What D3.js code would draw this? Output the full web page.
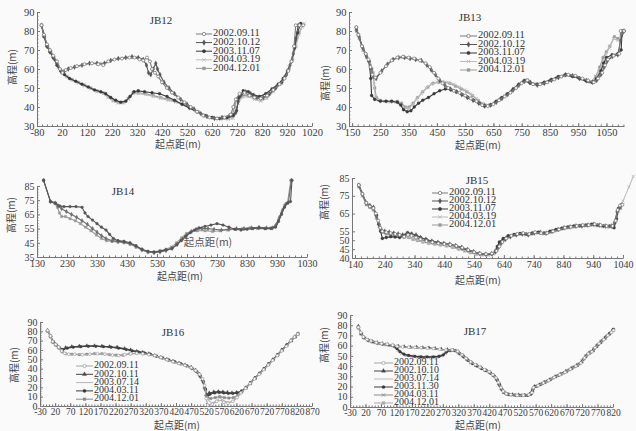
<!DOCTYPE html>
<html><head><meta charset="utf-8">
<script src="https://cdn.jsdelivr.net/npm/d3@7"></script>
<style>
body{margin:0;background:#fafafa;}
svg{display:block;}
.tick text{font-family:"Liberation Serif","Times New Roman",serif;fill:#3a3a3a;}
.ax .domain,.ax line{stroke:#777;}
</style></head><body>
<svg id="fig" width="636" height="431"></svg>
<script>
// ---- JB12 ----
const jb12Dates = ["2002.09.11","2002.10.12","2003.11.07","2004.03.19","2004.12.01"];
const jb12XTicks = [-80,20,120,220,320,420,520,620,720,820,920,1020];
const jb12YTicks = [30,40,50,60,70,80,90];
const jb12_a = [[-62,83],[-52,78],[-40,73],[-28,70],[-15,67],[0,64],[12,60],[22,58],[35,59.5],[55,60.5],[80,61.5],[110,62.5],[140,63],[165,62.5],[185,62],[205,64],[230,65],[260,65.5],[290,66],[310,66],[330,65],[345,64.5],[360,66],[372,64],[380,60],[392,58],[405,56],[420,53],[440,50],[460,47.5],[485,45],[510,42.5],[535,40],[560,37.5],[585,35.5],[610,34.5],[640,34],[670,34.5],[695,36],[705,40],[715,44],[730,47],[750,47.5],[770,46],[790,45],[815,44.5],[840,46],[865,49],[890,52],[910,55],[925,59],[938,64],[948,72],[955,83],[970,83],[985,83]];
const jb12_b = [[-62,83],[-52,78],[-40,72],[-28,69],[-15,66],[0,63],[15,59],[28,58.5],[45,60],[70,61],[100,62],[130,63],[160,63],[190,63],[215,64.5],[245,65.5],[275,66],[300,66.5],[325,66],[345,65],[358,62],[366,58],[375,57],[385,60],[395,63],[402,60],[412,57],[428,53],[448,50],[470,47],[495,44],[520,41.5],[548,39],[575,36.5],[600,35],[630,34],[660,34.5],[690,35.5],[715,37],[725,43],[735,46],[755,48],[775,47],[800,45],[825,45],[850,47],[875,50],[900,53],[918,57],[932,62],[945,68],[955,76],[965,83]];
const jb12_c = [[-62,83],[-52,77],[-40,72],[-28,69],[-15,66],[0,62],[15,59],[30,57],[50,55],[75,53.5],[100,52],[125,50.5],[150,49],[175,48],[195,47],[215,45],[235,43.5],[255,42.5],[275,43],[292,45.5],[308,48],[325,48.5],[350,48],[380,47.5],[410,47],[440,45.5],[470,43.5],[500,41.5],[530,39.5],[560,37.5],[590,35.5],[620,34.5],[650,34],[680,34.5],[705,35.5],[718,38],[728,45],[745,48.5],[765,48],[785,46.5],[810,45.5],[835,47],[860,49.5],[885,52],[905,55],[922,59],[938,64],[950,71],[962,79],[975,84]];
const jb12_d = [[-62,83],[-50,77],[-38,72],[-25,69],[-10,66],[5,62],[20,59],[40,56],[60,54],[85,52.5],[110,51],[135,49.5],[160,48],[185,47],[205,45],[225,43],[245,42],[265,42],[285,44],[305,47],[325,47],[355,46.5],[385,45.5],[415,44.5],[445,43.5],[475,42.5],[505,41],[535,39],[565,37],[595,35],[625,34],[655,33.5],[685,33.5],[705,34],[715,37],[725,42],[740,45],[765,45.5],[790,44],[815,43],[840,44.5],[865,48],[890,52],[910,56],[928,61],[942,66],[955,72],[968,78],[980,82],[990,84]];
const jb12_e = [[-62,83],[-50,77],[-38,72],[-25,69],[-10,65],[5,61],[20,58],[40,56],[60,54.5],[85,53],[110,51.5],[135,50],[160,48.5],[185,47.5],[205,45.5],[225,43.5],[245,42.5],[265,42.5],[285,44.5],[305,47.5],[325,47.5],[355,47],[385,46],[415,45],[445,44],[475,43],[505,41.5],[535,39.5],[565,37.5],[595,35.5],[625,34.5],[655,34],[685,34],[700,35],[710,40],[720,44],[740,46],[765,46],[790,45],[815,44],[840,45.5],[865,48.5],[890,52],[910,55.5],[928,60],[942,65],[955,72],[968,79],[982,83]];

// ---- JB13 ----
const jb13Dates = ["2002.09.11","2002.10.12","2003.11.07","2004.03.19","2004.12.01"];
const jb13XTicks = [150,250,350,450,550,650,750,850,950,1050];
const jb13YTicks = [30,40,50,60,70,80,90];
const jb13_a = [[165,82],[172,78],[185,72],[198,68],[208,65],[215,61],[222,57],[232,55.5],[250,58],[270,61.5],[290,64.5],[310,66],[330,66.5],[350,66],[370,65.5],[390,64.5],[410,63],[425,61],[440,58],[455,55],[470,52.5],[490,50],[510,48.5],[530,47.5],[550,46],[570,44.5],[590,43],[610,41],[630,40.5],[650,41.5],[670,43.5],[690,45.5],[710,47.5],[730,50],[750,52.5],[770,54],[790,52],[815,52],[840,53],[865,54.5],[890,56],[915,57],[940,56.5],[965,55],[985,54],[1005,53],[1020,55],[1035,58],[1045,62],[1055,65],[1075,67],[1095,68],[1100,80],[1112,80]];
const jb13_b = [[165,81],[175,77],[188,71],[200,67],[210,64],[218,60],[225,56],[235,55],[255,59],[275,62.5],[295,65],[315,66],[335,66],[355,65.5],[375,65],[395,64.5],[415,62],[430,59.5],[445,57],[460,54],[478,51.5],[498,49.5],[518,48],[538,46.5],[558,45],[578,43.5],[598,42],[618,40.5],[640,41],[660,42.5],[680,44.5],[700,46.5],[720,49],[740,51.5],[760,53.5],[780,53],[805,51.5],[830,52.5],[855,54],[880,55.5],[905,57],[930,56.5],[955,55],[980,54],[1000,53],[1015,54],[1030,57],[1042,61],[1052,64],[1070,66.5],[1090,67.5],[1100,75],[1112,80]];
const jb13_c = [[165,82],[172,78],[185,72],[198,68],[210,64],[216,55],[219,46],[230,44],[250,43],[270,43],[290,43],[310,42.5],[322,41],[332,38.5],[345,37.5],[358,38],[370,40],[385,42],[400,43.5],[420,45],[440,47],[460,48.5],[480,49.5],[500,49],[520,48],[540,46.5],[560,45],[580,43.5],[600,42],[620,40.5],[640,41],[660,43],[680,45],[700,47],[720,49.5],[740,52],[760,54],[780,52.5],[805,52],[830,53],[855,54.5],[880,56],[905,57],[930,56],[955,55],[980,53.5],[1000,53],[1015,55],[1030,59],[1040,63],[1050,66],[1070,67.5],[1090,68],[1102,70],[1105,80],[1112,80]];
const jb13_d = [[165,81],[175,76],[188,70],[200,67],[212,63],[222,60],[228,52],[232,45],[245,43.5],[265,43],[285,42.5],[305,42.5],[320,42],[335,39.5],[348,39],[362,41],[378,44],[395,47],[412,50],[430,52],[450,53],[470,53.5],[490,53],[510,52],[530,50.5],[550,49],[570,47],[590,44.5],[610,42],[630,41],[650,42],[670,44],[690,46],[710,48],[730,50.5],[750,53],[770,54.5],[790,52.5],[815,52],[840,53],[865,54.5],[890,56],[915,56.5],[940,56],[965,54.5],[990,53],[1010,55],[1025,59],[1038,64],[1048,68],[1060,71],[1075,76],[1090,75]];
const jb13_e = [[165,80],[176,76],[190,70],[202,66],[214,62],[224,58],[230,50],[236,45],[250,43.5],[270,43],[290,43],[310,43],[325,42],[338,40],[352,40],[366,42],[382,45],[400,48],[418,50.5],[436,52.5],[456,53],[476,53],[496,52.5],[516,51],[536,49.5],[556,48],[576,46],[596,43.5],[616,41.5],[636,41],[656,42.5],[676,44.5],[696,46.5],[716,48.5],[736,51],[756,53.5],[776,53.5],[800,52],[825,52.5],[850,54],[875,55.5],[900,56.5],[925,56.5],[950,55.5],[975,54],[995,53],[1012,56],[1026,61],[1038,66],[1050,69],[1062,72],[1078,77],[1090,76]];

// ---- JB14 ----
const jb14XTicks = [130,230,330,430,530,630,730,830,930,1030];
const jb14YTicks = [35,45,55,65,75,85];
const jb14_a = [[152,89],[175,74],[192,73],[205,71],[220,70.5],[240,70.5],[260,70.5],[280,70],[290,66],[300,63.5],[315,61],[330,58.5],[345,56],[360,54],[372,51],[385,48],[400,46.5],[420,46],[440,45],[460,43],[480,40.5],[500,39],[520,38.5],[540,39],[560,40],[580,41],[595,43.5],[610,46.5],[625,49.5],[640,52],[655,54],[670,55.5],[690,56.5],[710,57.5],[730,58.5],[750,57.5],[770,56],[790,54.5],[810,54],[830,54.5],[850,55],[870,55.5],[890,55],[910,55],[925,56],[935,60],[945,65],[955,70],[965,73],[975,74],[980,89]];
const jb14_b = [[152,89],[175,74],[190,73],[200,71],[212,69],[228,67],[245,65],[262,63],[280,60.5],[298,58],[315,55],[330,52.5],[345,50],[360,48],[380,46.5],[400,46],[420,45.5],[440,44.5],[460,42.5],[480,40],[500,38.5],[520,38],[540,38.5],[560,39.5],[580,41],[598,44],[615,47.5],[630,50.5],[645,53],[660,54.5],[680,55],[700,55],[720,54.5],[745,54],[770,54.5],[795,55],[820,55],[845,55.5],[870,56],[895,55.5],[915,55.5],[928,58],[938,63],[948,68],[958,72],[968,73.5],[978,89]];
const jb14_c = [[152,89],[175,74],[188,73],[198,70],[205,66],[212,63.5],[225,63.5],[240,62],[258,60.5],[275,58.5],[292,56],[310,53.5],[328,50.5],[345,48],[362,46.5],[380,46],[400,45.5],[420,45],[440,44],[460,42],[480,40],[500,38.5],[520,38.5],[540,39.5],[560,40.5],[578,42],[595,45],[612,48.5],[628,51.5],[645,53],[665,53.5],[690,53.5],[715,53],[740,53.5],[765,54],[790,54.5],[815,55],[840,55.5],[865,55],[890,55],[910,55.5],[925,57],[935,61],[945,66],[955,71],[965,73],[976,89]];

// ---- JB15 ----
const jb15Dates = ["2002.09.11","2002.10.12","2003.11.07","2004.03.19","2004.12.01"];
const jb15XTicks = [140,240,340,440,540,640,740,840,940,1040];
const jb15YTicks = [40,45,50,55,65,75,85];
const jb15_a = [[153,81],[165,76],[178,71],[190,69],[202,68],[210,65],[218,61],[225,57],[232,55],[245,54.5],[260,54],[275,53.5],[290,53],[305,52],[318,53],[330,52.5],[345,51.5],[360,50.5],[380,49.5],[400,48.8],[420,48.2],[440,47.8],[460,47.5],[480,46.8],[500,45.8],[520,44.5],[540,43.3],[560,42.5],[580,42.2],[600,42.5],[615,44],[625,46.5],[635,49],[648,51],[665,52.5],[685,53.5],[705,54],[725,53.5],[745,54.5],[765,54],[785,54],[805,55],[825,56],[845,57],[865,57.5],[885,58],[905,58.5],[925,58.5],[945,59],[965,58.5],[985,58],[1005,58],[1015,61],[1022,67],[1030,69.5],[1038,70]];
const jb15_b = [[153,81],[165,76],[178,71],[190,69.5],[202,68.5],[212,64],[220,59],[228,56],[240,55],[255,54.5],[270,54],[285,53.5],[300,53],[315,54],[330,53.5],[345,53],[360,51.5],[378,50.5],[398,49.5],[418,48.8],[438,48.2],[458,47.8],[478,47],[498,46],[518,44.8],[538,43.6],[558,42.6],[578,42.2],[598,42.4],[612,43.5],[622,46],[632,48.5],[645,50.5],[662,52],[682,53],[702,53.5],[722,53],[742,54],[762,54.5],[782,54],[802,55],[822,56],[842,57],[862,57.5],[882,58],[902,58],[922,58.5],[942,59],[962,58.5],[982,58],[1002,58],[1012,60],[1020,66],[1030,69]];
const jb15_c = [[153,81],[165,76],[178,71],[190,69],[202,68],[212,64],[220,59],[226,55],[232,51],[245,51.5],[260,52],[275,51.8],[290,51.5],[305,52.5],[318,54],[330,53.5],[345,52.5],[360,51.5],[380,50.3],[400,49.3],[420,48.6],[440,48],[460,47.5],[480,46.6],[500,45.5],[520,44.3],[540,43.2],[560,42.4],[580,42],[600,42.3],[612,44],[618,46.5],[625,49],[638,51],[655,52.5],[675,53.2],[695,53.8],[715,53.5],[735,54],[755,54.5],[775,54],[795,55],[815,56],[835,56.8],[855,57.5],[875,58],[895,58.2],[915,58.5],[935,59],[955,58.5],[975,58],[995,58],[1010,57],[1018,62],[1025,68],[1035,70]];
const jb15_d = [[153,81],[165,75],[178,70.5],[190,69],[202,67.5],[212,63],[222,58],[232,55],[245,54],[260,53.5],[275,53],[290,52.5],[305,51.5],[320,52],[335,51],[350,50],[368,49.2],[388,48.5],[408,48],[428,47.5],[448,47],[468,46.3],[488,45.3],[508,44.2],[528,43.2],[548,42.4],[568,42],[588,41.8],[605,42.3],[618,44.5],[628,47.5],[640,50],[655,51.8],[675,53],[695,53.5],[715,53],[735,53.8],[755,54],[775,53.5],[795,54.5],[815,55.5],[835,56.5],[855,57],[875,57.5],[895,58],[915,58],[935,58.5],[955,58],[975,57.5],[995,57.5],[1008,57],[1015,60],[1025,66],[1040,72],[1060,80],[1075,86]];
const jb15_e = [[153,80],[165,75],[178,70],[190,68.5],[202,67],[212,62.5],[222,57.5],[232,54.5],[245,53.5],[260,53],[275,52.5],[290,52],[305,51.8],[320,51.5],[335,50.5],[350,49.8],[368,49],[388,48.3],[408,47.8],[428,47.3],[448,46.8],[468,46],[488,45],[508,44],[528,43],[548,42.2],[568,41.8],[588,41.8],[605,42.5],[616,45],[626,48],[638,50.5],[652,52],[672,53],[692,53.5],[712,53.2],[732,53.5],[752,54.2],[772,53.8],[792,54.3],[812,55.3],[832,56.3],[852,57],[872,57.5],[892,58],[912,58.2],[932,58.5],[952,58.3],[972,57.8],[992,57.5],[1008,57.5],[1016,61],[1024,67],[1032,68]];

// ---- JB16 ----
const jb16Dates = ["2002.09.11","2002.10.11","2003.07.14","2004.03.11","2004.12.01"];
const jb16XTicks = [-30,20,70,120,170,220,270,320,370,420,470,520,570,620,670,720,770,820,870];
const jb16YTicks = [0,10,20,30,40,50,60,70,80,90];
const jb16_a = [[-5,81],[5,75],[12,69],[22,66],[32,63],[42,59],[52,56.5],[65,55.5],[85,55.5],[110,55],[135,55.5],[160,56],[185,55.5],[210,54.5],[230,54],[250,55],[270,56],[290,56.5],[310,56],[330,55],[350,54],[370,52],[390,49.5],[410,47.5],[430,45.5],[450,43.5],[470,41],[485,38],[498,34],[508,29],[515,22],[520,8],[525,1],[540,2],[555,5],[565,7],[578,4],[592,3],[608,5],[622,9],[635,14],[650,19],[665,24],[680,29],[695,34],[710,39],[725,44],[740,49],[755,54],[770,59],[785,64],[800,70],[812,74],[823,77]];
const jb16_b = [[-5,81],[5,75],[12,69],[22,66],[32,63],[42,60],[55,62.5],[75,63.5],[100,64],[125,64.5],[150,64.5],[175,64],[200,63.5],[225,63],[250,61.5],[270,60],[290,58.5],[310,57.5],[330,56],[350,54],[370,52],[390,50],[410,48],[430,46],[450,44],[470,41.5],[485,38.5],[498,34],[508,28],[515,20],[520,12],[530,14],[545,15],[560,15.5],[575,15],[590,14.5],[605,14],[620,14.5],[635,15.5],[650,19],[665,24],[680,29.5],[695,34.5],[710,39.5],[725,44.5],[740,49.5],[755,54.5],[770,60],[785,65],[800,70],[812,74],[822,77]];
const jb16_c = [[-5,80],[5,74],[14,68],[24,65],[34,62],[44,58.5],[55,56],[70,55],[95,55.5],[120,55],[145,55.5],[170,56],[195,55],[215,54],[240,54],[262,55.5],[282,56],[302,56],[322,55.5],[345,54.5],[365,52.5],[385,50],[405,48],[425,46],[445,44],[465,42],[480,39],[495,35],[505,30],[513,24],[520,14],[528,6],[540,3],[555,6],[568,8],[582,5],[596,4],[612,6],[625,11],[640,16],[655,21],[670,26],[685,31],[700,36],[715,41],[730,46],[745,51],[760,56],[775,61],[790,66],[805,71],[818,75],[825,77]];
const jb16_d = [[-5,81],[5,75],[14,69],[24,65.5],[34,62.5],[46,60.5],[60,62],[80,63],[105,63.5],[130,64],[155,64],[180,63.5],[205,63],[230,62],[255,60.5],[275,59],[295,58],[315,57],[335,55.5],[355,53.5],[375,51.5],[395,49.5],[415,47.5],[435,45.5],[455,43],[472,40.5],[487,37],[500,32],[510,26],[517,18],[522,10],[532,12.5],[548,14],[563,14.5],[578,14],[593,13.5],[608,13.5],[622,14],[638,16],[652,20],[667,25],[682,30],[697,35],[712,40],[727,45],[742,50],[757,55],[772,60],[787,65.5],[802,70.5],[815,74.5],[823,77]];
const jb16_e = [[-5,80],[5,74],[13,68],[23,65],[33,62],[43,58],[55,56],[75,55.5],[100,55],[125,55.5],[150,56],[175,56],[200,55],[222,54.5],[245,54.5],[268,56],[290,56.5],[312,56],[334,55],[356,53.5],[376,51.5],[396,49],[416,47],[436,45],[456,43],[474,40],[490,36.5],[502,31],[511,25],[518,17],[524,9],[535,8],[550,9],[565,10],[580,9],[595,8.5],[610,9],[624,11],[638,15],[652,20],[667,25],[682,30],[697,35],[712,40],[727,45],[742,50],[757,55],[772,60],[787,65],[802,70],[815,74],[824,78]];

// ---- JB17 ----
const jb17Dates = ["2002.09.11","2002.10.10","2003.07.14","2003.11.30","2004.03.11","2004.12.01"];
const jb17XTicks = [-30,20,70,120,170,220,270,320,370,420,470,520,570,620,670,720,770,820];
const jb17YTicks = [0,10,20,30,40,50,60,70,80,90];
const jb17_a = [[-3,78],[5,73],[13,68.5],[25,66],[38,64.5],[55,63],[72,62],[90,61.5],[108,60.5],[122,59.5],[140,58.8],[160,58.5],[180,58.3],[200,58],[220,57.5],[240,57.2],[260,56.5],[280,55.8],[300,55.8],[318,54.5],[332,51],[345,47.5],[360,44],[375,41.5],[390,39],[405,36.5],[420,34.5],[432,31.5],[442,28.5],[450,24],[458,19],[465,15.5],[475,13],[490,12],[510,11.5],[530,11.5],[548,12],[558,14],[563,19],[578,21],[595,23.5],[612,26],[630,29],[648,31.5],[665,34],[682,37],[700,40],[716,43],[728,48],[740,52],[752,54],[762,58],[775,62],[790,66],[803,70],[815,73],[822,75]];
const jb17_b = [[-3,79],[6,72],[15,68],[28,65.5],[42,64],[58,63],[75,62],[92,61],[110,60],[126,59.5],[145,59],[165,58.5],[185,58.5],[205,58],[225,57.8],[245,57.3],[265,56.5],[285,56],[303,55.5],[320,54],[335,50.5],[348,47],[362,43.5],[378,41],[393,38.5],[408,36],[422,34],[434,31],[444,27.5],[452,23],[460,18],[468,14.5],[480,12.5],[495,12],[515,11.8],[535,11.5],[550,12.5],[559,16],[566,20],[582,21.5],[598,24],[615,26.5],[633,29.5],[650,32],[668,34.5],[685,37.5],[703,40.5],[718,44],[730,49],[742,52.5],[755,55],[766,59],[779,63],[793,67],[806,71],[818,74.5]];
const jb17_c = [[-3,77],[7,71],[17,67.5],[30,65],[45,63.5],[62,62.5],[80,61.5],[98,60.8],[115,60],[130,59.2],[150,58.5],[170,58],[190,57.5],[210,57.3],[230,57],[250,56.8],[270,56.2],[290,55.5],[308,55.2],[322,53],[337,49.5],[352,46],[367,43],[382,40.5],[397,38],[412,35.5],[426,33],[438,30],[447,26],[455,21],[463,16.5],[472,13.5],[485,12.3],[505,12],[525,11.8],[545,12],[555,14.5],[562,18.5],[577,20.5],[594,23],[611,25.5],[628,28],[646,31],[664,33.5],[682,36.5],[699,39.5],[714,43],[727,47.5],[739,51.5],[751,54.5],[762,58],[774,61.5],[788,65.5],[801,69.5],[814,73],[823,76]];
const jb17_d = [[-3,78],[6,72],[15,68],[28,65.5],[42,64],[58,62.5],[75,61.5],[92,61],[110,60],[122,57],[132,54],[145,51.5],[160,50.5],[180,49.5],[200,49],[220,49],[240,49],[258,49.5],[272,51],[282,54],[295,55.5],[312,55],[325,52],[338,49],[352,45.5],[366,42.5],[381,40],[396,37.5],[411,35.5],[425,33],[437,30],[446,26],[454,21],[462,16.5],[472,13.5],[485,12],[505,11.5],[525,11.5],[545,11.5],[556,13],[562,18],[575,20.5],[592,23],[609,25.5],[627,28.5],[645,31],[662,33.5],[680,36.5],[697,39.5],[713,42.5],[726,47],[738,51.5],[750,54],[760,57.5],[772,61],[787,65.5],[800,69.5],[812,72.5],[821,76]];
const jb17_e = [[-3,78],[7,71.5],[17,67.5],[30,65],[45,63.5],[62,62.5],[80,61.5],[98,60.5],[114,59],[126,55.5],[138,52.5],[152,50.5],[170,49.5],[190,49],[210,48.5],[230,48.5],[250,49],[265,50],[277,52.5],[290,55],[305,55.5],[320,53.5],[334,50],[348,46.5],[362,43.5],[377,41],[392,38.5],[407,36],[421,34],[433,31],[443,27.5],[451,23],[459,18],[467,14.5],[478,12.5],[495,11.5],[515,11],[535,11.2],[552,12],[560,15.5],[568,20],[584,22],[600,24.5],[617,27],[635,30],[652,32.5],[670,35.5],[688,38.5],[705,41.5],[720,45],[733,50],[745,53.5],[757,56],[768,60],[781,64],[795,68],[808,72],[820,75]];
const jb17_f = [[-3,77],[8,71],[18,67],[32,64.5],[48,63],[65,62],[83,61],[100,60],[118,58],[130,54.5],[142,52],[156,50.5],[175,49.8],[195,49.3],[215,49],[235,49],[255,49.5],[268,50.5],[280,53],[293,55],[308,55],[322,52.5],[336,49],[350,46],[364,43],[379,40.5],[394,38],[409,35.5],[423,33.5],[435,30.5],[445,27],[453,22],[461,17.5],[469,14],[481,12.5],[500,12],[520,11.5],[540,11.5],[553,12.5],[561,17],[571,20.5],[587,22.5],[603,25],[620,27.5],[638,30.5],[655,33],[673,36],[691,39],[708,42],[722,46],[735,50.5],[747,54],[758,57],[770,61],[783,64.5],[797,68.5],[810,72],[822,76]];

const svg = d3.select("#fig");
const serif = '"Liberation Serif","Times New Roman",serif';
const cjk = '"Noto Sans CJK SC",sans-serif';
const plain = d => String(d);   // "-80", "1020": no grouping, plain hyphen

const symbols = {
  circle: d3.symbolCircle, diamond: d3.symbolDiamond, square: d3.symbolSquare,
  triangle: d3.symbolTriangle, times: d3.symbolTimes || d3.symbolCross
};

const st5 = [
  {c:"#7a7a7a", m:"circle", open:true},
  {c:"#555", m:"diamond"},
  {c:"#3a3a3a", m:"circle"},
  {c:"#bcbcbc", m:"times"},
  {c:"#9a9a9a", m:"square"}
];
const st16 = [
  {c:"#a5a5a5", m:"circle", open:true},
  {c:"#454545", m:"triangle"},
  {c:"#b5b5b5", m:null},
  {c:"#3a3a3a", m:"circle"},
  {c:"#8c8c8c", m:"square"}
];
const st17 = [
  {c:"#a5a5a5", m:"circle", open:true},
  {c:"#454545", m:"triangle"},
  {c:"#b8b8b8", m:null},
  {c:"#3a3a3a", m:"circle"},
  {c:"#8a8a8a", m:"times"},
  {c:"#aaaaaa", m:"square"}
];

function drawMarker(sel, st, size) {
  if (!st.m) return;
  const stroke = st.m === "times";
  sel.attr("d", d3.symbol().type(symbols[st.m]).size(size))
    .attr("fill", stroke ? "none" : (st.open ? "#fff" : st.c))
    .attr("stroke", st.c)
    .attr("stroke-width", stroke ? 0.9 : (st.open ? 0.8 : 0.3));
}

function panel(p) {
  const g = svg.append("g");
  const x = d3.scaleLinear().domain(p.xDomain).range(p.xRange);
  const y = d3.scaleLinear().domain(p.yDomain).range(p.yRange);
  const y0 = p.yRange[0];

  // minor ticks
  const xStep = (p.xTicks[1] - p.xTicks[0]) / 5;
  const xMinor = d3.range(p.xTicks[0], p.xDomain[1] + 0.01, xStep);
  g.append("g").attr("class", "ax").attr("transform", `translate(0,${y0})`)
    .call(d3.axisBottom(x).tickValues(xMinor).tickSize(-1.5).tickFormat(""))
    .select(".domain").remove();
  g.append("g").attr("class", "ax").attr("transform", `translate(${p.xRange[0]},0)`)
    .call(d3.axisLeft(y).tickValues(p.yMinor).tickSize(-1.5).tickFormat(""))
    .select(".domain").remove();

  g.append("g").attr("class", "ax").attr("transform", `translate(0,${y0})`)
    .call(d3.axisBottom(x).tickValues(p.xTicks).tickFormat(plain)
      .tickSizeInner(-3).tickSizeOuter(0).tickPadding(2.5))
    .selectAll("text").style("font-size", p.xfs + "px");
  g.append("g").attr("class", "ax").attr("transform", `translate(${p.xRange[0]},0)`)
    .call(d3.axisLeft(y).tickValues(p.yTicks).tickFormat(plain)
      .tickSizeInner(-3).tickSizeOuter(0).tickPadding(2.5))
    .selectAll("text").style("font-size", p.fs + "px");

  const line = d3.line().x(d => x(d[0])).y(d => y(d[1]));
  const order = d3.range(p.series.length).reverse();
  order.forEach(i => {
    const s = p.series[i], st = p.styles[i];
    g.append("path").datum(s).attr("d", line).attr("fill", "none")
      .attr("stroke", st.c).attr("stroke-width", 1.1);
    g.append("g").selectAll("path").data(s).join("path")
      .attr("transform", d => `translate(${x(d[0])},${y(d[1])})`)
      .call(sel => drawMarker(sel, st, p.ms));
  });

  g.append("text").attr("x", p.title[0]).attr("y", p.title[1])
    .attr("text-anchor", "middle").attr("dominant-baseline", "middle")
    .style("font-family", serif).style("font-size", "11px").attr("fill", "#333").text(p.name);

  g.append("text").attr("transform", `translate(${p.yLab[0]},${p.yLab[1]}) rotate(-90)`)
    .attr("text-anchor", "middle").attr("dominant-baseline", "middle")
    .style("font-family", cjk).style("font-size", "10px").attr("fill", "#444").text("高程(m)");
  g.append("text").attr("x", p.xLab[0]).attr("y", p.xLab[1])
    .attr("text-anchor", "middle").attr("dominant-baseline", "middle")
    .style("font-family", cjk).style("font-size", "10px").attr("fill", "#444").text("起点距(m)");

  if (p.dates) {
    const lg = g.append("g");
    p.dates.forEach((d, i) => {
      const ly = p.legend.y0 + i * p.legend.dy, st = p.styles[i];
      lg.append("line").attr("x1", p.legend.x0).attr("x2", p.legend.x1)
        .attr("y1", ly).attr("y2", ly).attr("stroke", st.c).attr("stroke-width", 1);
      lg.append("path").attr("transform", `translate(${(p.legend.x0 + p.legend.x1) / 2},${ly})`)
        .call(sel => drawMarker(sel, st, p.ms + 2));
      lg.append("text").attr("x", p.legend.x1 + 1).attr("y", ly)
        .attr("dominant-baseline", "middle").style("font-family", serif)
        .style("font-size", p.lfs + "px").attr("fill", "#333").text(d);
    });
  }
  return g;
}

panel({name:"JB12", xDomain:[-80,1020], xRange:[37,312], yDomain:[30,90], yRange:[126,12],
  xTicks:jb12XTicks, yTicks:jb12YTicks, yMinor:d3.range(30,90.1,2), fs:10.5, xfs:10.5, lfs:10.5, ms:7,
  series:[jb12_a,jb12_b,jb12_c,jb12_d,jb12_e], styles:st5, dates:jb12Dates,
  title:[161,21], yLab:[13,67], xLab:[178,145], legend:{x0:196,x1:212,y0:34,dy:8.6}});

panel({name:"JB13", xDomain:[139,1112], xRange:[349,624], yDomain:[30,90], yRange:[126,12],
  xTicks:jb13XTicks, yTicks:jb13YTicks, yMinor:d3.range(30,90.1,2), fs:10.5, xfs:10.5, lfs:10.5, ms:7,
  series:[jb13_a,jb13_b,jb13_c,jb13_d,jb13_e], styles:st5, dates:jb13Dates,
  title:[470,18], yLab:[326,83], xLab:[478,146], legend:{x0:460,x1:477,y0:36,dy:8.5}});

panel({name:"JB14", xDomain:[130,1030], xRange:[37,307], yDomain:[35,85], yRange:[257,186],
  xTicks:jb14XTicks, yTicks:jb14YTicks, yMinor:d3.range(35,85.1,2), fs:10, xfs:10, ms:6,
  series:[jb14_a,jb14_b,jb14_c], styles:[{c:"#555",m:"circle"},{c:"#6e6e6e",m:"diamond"},{c:"#999",m:"square"}],
  title:[123,192], yLab:[12,215], xLab:[180,277]});
svg.append("text").attr("x", 208).attr("y", 243).attr("text-anchor", "middle")
  .attr("dominant-baseline", "middle").style("font-family", cjk).style("font-size", "10.5px")
  .attr("fill", "#555").text("起点距(m)");

panel({name:"JB15", xDomain:[130,1040], xRange:[352,623], yDomain:[40,85], yRange:[258,178],
  xTicks:jb15XTicks, yTicks:jb15YTicks, yMinor:[], fs:10, xfs:10, lfs:10.5, ms:7,
  series:[jb15_a,jb15_b,jb15_c,jb15_d,jb15_e], styles:st5, dates:jb15Dates,
  title:[477,181], yLab:[325,202], xLab:[478,281], legend:{x0:432,x1:448,y0:193,dy:8}});

panel({name:"JB16", xDomain:[-30,870], xRange:[40,312], yDomain:[0,90], yRange:[406,322],
  xTicks:jb16XTicks, yTicks:jb16YTicks, yMinor:d3.range(0,90.1,2), fs:10, xfs:9.5, lfs:10, ms:6,
  series:[jb16_a,jb16_b,jb16_c,jb16_d,jb16_e], styles:st16, dates:jb16Dates,
  title:[173,333], yLab:[15,365], xLab:[177,426], legend:{x0:76,x1:93,y0:366,dy:8.3}});

panel({name:"JB17", xDomain:[-30,820], xRange:[350,613], yDomain:[0,90], yRange:[407,315],
  xTicks:jb17XTicks, yTicks:jb17YTicks, yMinor:d3.range(0,90.1,2), fs:10, xfs:9.5, lfs:10, ms:6,
  series:[jb17_a,jb17_b,jb17_c,jb17_d,jb17_e,jb17_f], styles:st17, dates:jb17Dates,
  title:[475,332], yLab:[325,345], xLab:[478,426], legend:{x0:374,x1:393,y0:363,dy:8}});
</script>
</body></html>
